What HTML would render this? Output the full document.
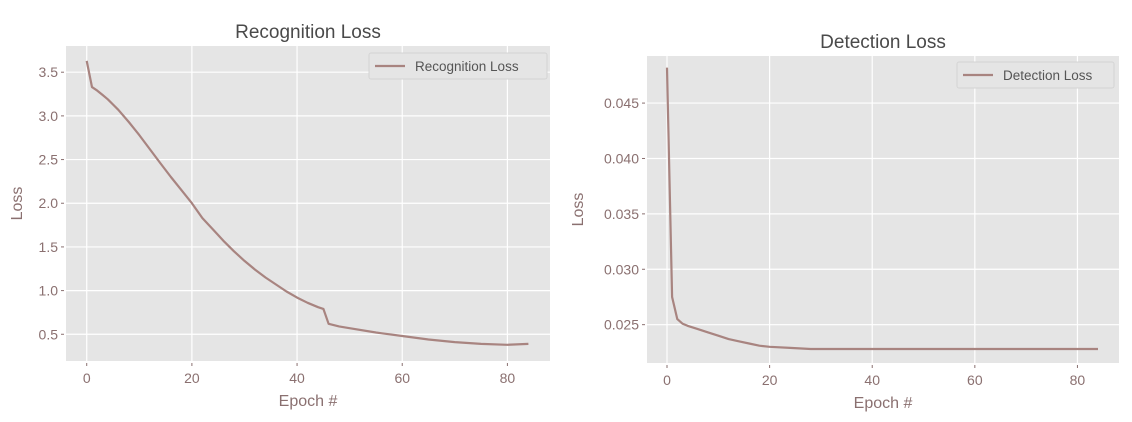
<!DOCTYPE html>
<html><head><meta charset="utf-8"><style>
html,body{margin:0;padding:0;background:#fff;width:1132px;height:422px;overflow:hidden}
svg{display:block;font-family:"Liberation Sans","DejaVu Sans",sans-serif}
</style></head><body>
<svg id="chart" width="1132" height="422"></svg>
<script>
const recEpochs = [0,1,2,3,4,5,6,8,10,12,14,16,18,20,22,24,26,28,30,32,34,36,38,40,42,44,45,46,48,50,55,60,65,70,75,80,84];
const recLoss = [3.63,3.33,3.29,3.24,3.19,3.13,3.07,2.93,2.78,2.62,2.46,2.30,2.15,2.0,1.83,1.70,1.57,1.45,1.34,1.24,1.15,1.07,0.99,0.92,0.86,0.81,0.79,0.62,0.59,0.57,0.52,0.48,0.44,0.41,0.39,0.38,0.39];
const recYTicks = [0.5,1.0,1.5,2.0,2.5,3.0,3.5];
const detEpochs = [0,1,2,3,4,6,8,10,12,14,16,18,20,24,28,40,60,84];
const detLoss = [0.0482,0.0275,0.0255,0.0251,0.0249,0.0246,0.0243,0.0240,0.0237,0.0235,0.0233,0.0231,0.0230,0.0229,0.0228,0.0228,0.0228,0.0228];
const detYTicks = [0.025,0.030,0.035,0.040,0.045];
const xTicks = [0,20,40,60,80];

const NS='http://www.w3.org/2000/svg';
const svg=document.getElementById('chart');
function mk(tag,attrs,parent,text){const e=document.createElementNS(NS,tag);for(const k in attrs)e.setAttribute(k,attrs[k]);if(text!==undefined)e.textContent=text;(parent||svg).appendChild(e);return e;}

function panel(cfg){
  const g=mk('g',{});
  
  
  const L=cfg.L,R=cfg.R,T=cfg.T,B=cfg.B;
  const sx=v=>L+(v-cfg.x0)/(cfg.x1-cfg.x0)*(R-L);
  const sy=v=>B-(v-cfg.y0)/(cfg.y1-cfg.y0)*(B-T);
  const bg=mk('rect',{x:L,y:T,width:R-L,height:B-T,fill:'#e5e5e5'},g);
  
  
  cfg.yt.forEach(v=>{
    const y=sy(v);
    mk('line',{x1:L,x2:R,y1:y,y2:y,stroke:'#fff','stroke-width':1.2},g);
    mk('line',{x1:L-5,x2:L-2,y1:y,y2:y,stroke:'#8a7070','stroke-width':1},g);
    const t=mk('text',{x:L-8,y:y+5,'text-anchor':'end','font-size':14,fill:'#8a7070'},g,cfg.fmt(v));
    
    
  });
  xTicks.forEach(v=>{
    const x=sx(v);
    mk('line',{x1:x,x2:x,y1:T,y2:B,stroke:'#fff','stroke-width':1.2},g);
    mk('line',{x1:x,x2:x,y1:B+2,y2:B+5,stroke:'#8a7070','stroke-width':1},g);
    const t=mk('text',{x:x,y:B+22,'text-anchor':'middle','font-size':14,fill:'#8a7070'},g,String(v));
    
    
  });
  const pts=cfg.xs.map((x,i)=>sx(x).toFixed(1)+','+sy(cfg.ys[i]).toFixed(1)).join(' ');
  const pl=mk('polyline',{points:pts,fill:'none',stroke:'#a88480','stroke-width':2.2,'stroke-linejoin':'round'},g);
  
  
  const ti=mk('text',{x:(L+R)/2,y:cfg.titleY,'text-anchor':'middle','font-size':19,fill:'#4a4a4a'},g,cfg.title);
  
  
  const xl=mk('text',{x:(L+R)/2,y:B+45,'text-anchor':'middle','font-size':16,fill:'#8a7070'},g,'Epoch #');
  
  
  const yl=mk('text',{x:cfg.ylx,y:(T+B)/2,'text-anchor':'middle','font-size':16,fill:'#8a7070',transform:'rotate(-90 '+cfg.ylx+' '+((T+B)/2)+')'},g,'Loss');
  
  
  const lg=mk('g',{},g);
  
  
  mk('rect',{x:cfg.lgx,y:cfg.lgy,width:cfg.lgw,height:26,fill:'#e5e5e5',stroke:'#d4d4d4','stroke-width':1,rx:2},lg);
  mk('line',{x1:cfg.lgx+6,x2:cfg.lgx+36,y1:cfg.lgy+13,y2:cfg.lgy+13,stroke:'#a88480','stroke-width':2.2},lg);
  mk('text',{x:cfg.lgx+46,y:cfg.lgy+18,'font-size':13.5,fill:'#555'},lg,cfg.title);
}
panel({name:'recognition-loss-chart',title:'Recognition Loss',L:66,R:550,T:46,B:361,x0:-3.94,x1:88.1,y0:0.194,y1:3.80,
  xs:recEpochs,ys:recLoss,yt:recYTicks,fmt:v=>v.toFixed(1),titleY:38,ylx:22,lgx:369,lgy:53,lgw:178});
panel({name:'detection-loss-chart',title:'Detection Loss',L:647,R:1119,T:56,B:363,x0:-3.9,x1:88.1,y0:0.02154,y1:0.04925,
  xs:detEpochs,ys:detLoss,yt:detYTicks,fmt:v=>v.toFixed(3),titleY:48,ylx:583,lgx:957,lgy:62,lgw:157});
</script>
</body></html>
